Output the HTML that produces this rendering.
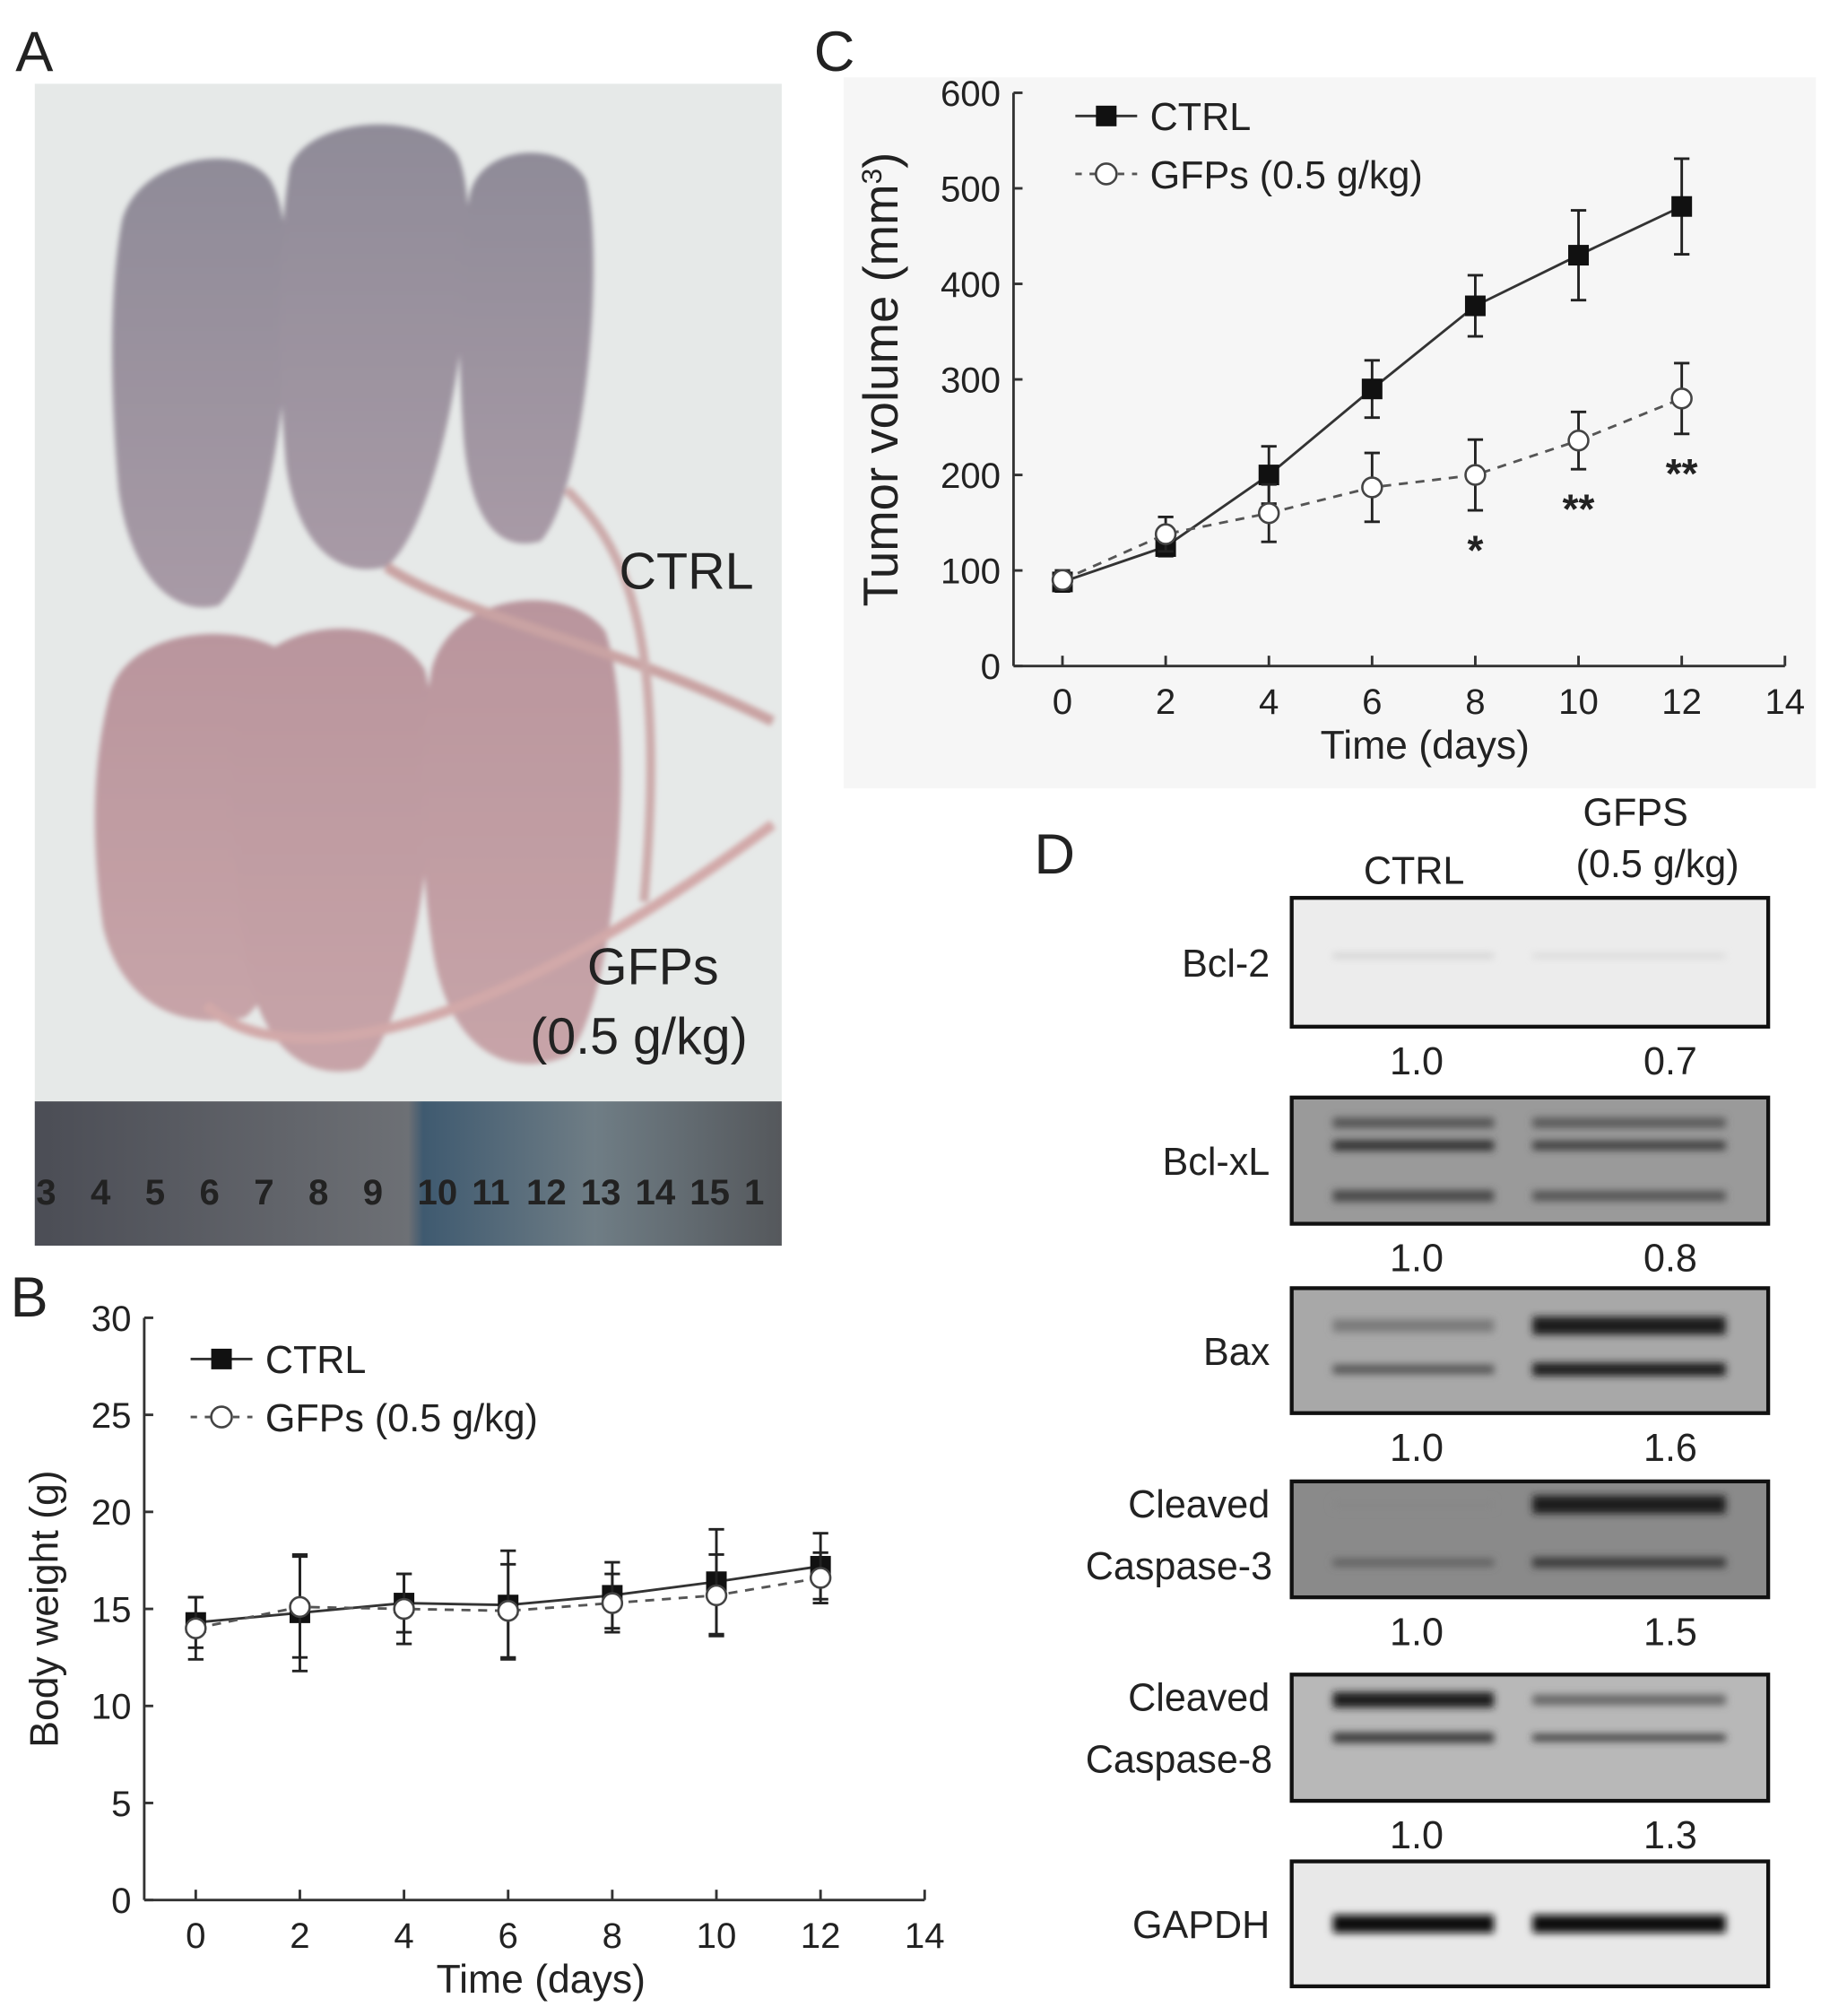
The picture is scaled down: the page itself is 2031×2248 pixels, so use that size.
<!DOCTYPE html>
<html><head><meta charset="utf-8"><style>
html,body{margin:0;padding:0;background:#fff}
svg{display:block}
text{font-family:"Liberation Sans",Arial,sans-serif;fill:#222}
</style></head><body>
<svg id="fig" width="2031" height="2248" viewBox="0 0 1414 1565" xmlns="http://www.w3.org/2000/svg">
<defs>
<linearGradient id="mouseTop" x1="0" y1="0" x2="0" y2="1"><stop offset="0" stop-color="#8f8b98"/><stop offset="1" stop-color="#a89aa6"/></linearGradient>
<linearGradient id="mouseBot" x1="0" y1="0" x2="0" y2="1"><stop offset="0" stop-color="#b9959d"/><stop offset="1" stop-color="#c7a4a8"/></linearGradient>
<linearGradient id="ruler" x1="0" y1="0" x2="1" y2="0"><stop offset="0" stop-color="#4b4d55"/><stop offset="0.5" stop-color="#6d7075"/><stop offset="0.52" stop-color="#3f5a70"/><stop offset="0.75" stop-color="#6f7d85"/><stop offset="1" stop-color="#55585c"/></linearGradient>
<filter id="blur3" x="-20%" y="-200%" width="140%" height="500%"><feGaussianBlur stdDeviation="3"/></filter>
<filter id="blur2"><feGaussianBlur stdDeviation="2"/></filter>
</defs>

<g>
<text x="12" y="55" font-size="44">A</text>
<rect x="27" y="65" width="580" height="902" fill="#e6e9e8"/>
<g filter="url(#blur2)">
<path d="M95,170 C110,120 190,110 210,140 C240,190 220,420 170,470 C130,480 100,440 92,380 C85,300 85,220 95,170Z" fill="url(#mouseTop)"/>
<path d="M225,130 C240,90 330,85 355,120 C380,170 350,400 300,440 C260,450 230,420 222,360 C215,280 215,190 225,130Z" fill="url(#mouseTop)"/>
<path d="M365,150 C375,110 440,110 455,140 C470,200 455,380 420,420 C385,430 365,400 360,340 C355,270 355,200 365,150Z" fill="url(#mouseTop)"/>
<path d="M85,540 C100,480 210,480 235,520 C260,600 230,760 190,790 C140,800 95,780 80,720 C70,650 72,590 85,540Z" fill="url(#mouseBot)"/>
<path d="M185,540 C200,480 300,470 330,520 C350,600 320,800 280,830 C235,840 200,810 190,740 C180,670 178,600 185,540Z" fill="url(#mouseBot)"/>
<path d="M335,520 C350,460 440,450 470,490 C495,560 480,780 440,820 C390,840 345,810 335,730 C325,660 325,580 335,520Z" fill="url(#mouseBot)"/>
<path d="M300,440 C360,480 480,500 600,560" stroke="#c9a3a3" stroke-width="8" fill="none"/>
<path d="M160,780 C200,820 330,840 600,640" stroke="#d2a9a9" stroke-width="8" fill="none"/>
<path d="M440,380 C480,420 520,480 500,700" stroke="#caa" stroke-width="7" fill="none"/>
</g>
<text x="533" y="457" font-size="40" text-anchor="middle" fill="#333">CTRL</text>
<text x="507" y="764" font-size="40" text-anchor="middle" fill="#333">GFPs</text>
<text x="496" y="818" font-size="40" text-anchor="middle" fill="#333">(0.5 g/kg)</text>
<rect x="27" y="855" width="580" height="112" fill="url(#ruler)"/>
<g id="rulerNums"></g>
</g>

<g id="chartB">
<text x="8" y="1022" font-size="44">B</text>
</g>

<rect x="655" y="60" width="755" height="552" fill="#f6f6f6"/>
<g id="chartC">
<text x="632" y="55" font-size="44">C</text>
</g>

<g id="panelD">
<text x="803" y="678" font-size="44">D</text>
<text x="1098" y="686" font-size="30" text-anchor="middle">CTRL</text>
<text x="1270" y="641" font-size="30" text-anchor="middle">GFPS</text>
<text x="1287" y="681" font-size="30" text-anchor="middle">(0.5 g/kg)</text>
</g>
</svg>
<script>
var NS='http://www.w3.org/2000/svg';
function mk(parent,tag,attrs,txt){var e=document.createElementNS(NS,tag);for(var k in attrs)e.setAttribute(k,attrs[k]);if(txt!==undefined)e.textContent=txt;parent.appendChild(e);return e;}

var rulerLabels=['3','4','5','6','7','8','9','10','11','12','13','14','15','1'];
var rg=document.getElementById('rulerNums');
rulerLabels.forEach(function(t,i){
  var el=mk(rg,'text',{x:28+i*42.3,y:935,'font-size':28,'font-weight':'bold','font-family':'Liberation Serif, serif',fill:'#1e1e22'},t);
  
  
});

var bDays=[0,2,4,6,8,10,12];
var bCtrl=[14.3,14.8,15.3,15.2,15.7,16.4,17.2];
var bCtrlErr=[1.3,3.0,1.5,2.8,1.7,2.7,1.7];
var bGfps=[14.0,15.1,15.0,14.9,15.3,15.7,16.6];
var bGfpsErr=[1.6,2.6,1.8,2.4,1.5,2.1,1.3];
var bYTicks=[0,5,10,15,20,25,30];
var bXTicks=[0,2,4,6,8,10,12,14];

var cDays=[0,2,4,6,8,10,12];
var cCtrl=[88,125,200,290,377,430,481];
var cCtrlErr=[10,10,30,30,32,47,50];
var cGfps=[90,138,160,187,200,236,280];
var cGfpsErr=[10,18,30,36,37,30,37];
var cStars=['','','','','*','**','**'];
var cYTicks=[0,100,200,300,400,500,600];
var cXTicks=[0,2,4,6,8,10,12,14];

function drawChart(g,o){
  var sx=function(v){return o.x0+(v-o.xmin)/(o.xmax-o.xmin)*(o.x1-o.x0);};
  var sy=function(v){return o.y0-(v-o.ymin)/(o.ymax-o.ymin)*(o.y0-o.y1);};
  var a;
  a=mk(g,'line',{x1:o.ax,y1:o.y0,x2:o.ax,y2:o.y1,stroke:'#333','stroke-width':2});
  
  a=mk(g,'line',{x1:o.ax,y1:o.y0,x2:o.x1,y2:o.y0,stroke:'#333','stroke-width':2});
  
  o.yt.forEach(function(v){
    var t=mk(g,'line',{x1:o.ax,y1:sy(v),x2:o.ax+7,y2:sy(v),stroke:'#333','stroke-width':2});
    
    var l=mk(g,'text',{x:o.ax-10,y:sy(v)+10,'font-size':o.fs,'text-anchor':'end'},String(v));
    
  });
  o.xt.forEach(function(v){
    var t=mk(g,'line',{x1:sx(v),y1:o.y0,x2:sx(v),y2:o.y0-8,stroke:'#333','stroke-width':2});
    
    var l=mk(g,'text',{x:sx(v),y:o.y0+37,'font-size':o.fs,'text-anchor':'middle'},String(v));
    
  });
  var xt=mk(g,'text',{x:(o.ax+o.x1)/2+o.xtOff,y:o.y0+72,'font-size':o.tfs,'text-anchor':'middle'},'Time (days)');
  
  var yt=mk(g,'text',{x:0,y:0,'font-size':o.tfs+o.ytExtra,'text-anchor':'middle',transform:'translate('+o.ytx+','+(o.y0+o.y1)/2+') rotate(-90)'});
  yt.innerHTML=o.ytitle;
  
  function series(vals,errs,dashed,name){
    var pts=o.days.map(function(d,i){return sx(d)+','+sy(vals[i]);}).join(' ');
    var pl=mk(g,'polyline',{points:pts,fill:'none',stroke:dashed?'#555':'#333','stroke-width':2,'stroke-dasharray':dashed?'7,6':'none'});
    
    o.days.forEach(function(d,i){
      var x=sx(d),yh=sy(vals[i]+errs[i]),yl=sy(vals[i]-errs[i]);
      var e=mk(g,'path',{d:'M'+x+','+yh+'V'+yl+'M'+(x-6)+','+yh+'H'+(x+6)+'M'+(x-6)+','+yl+'H'+(x+6),stroke:'#222','stroke-width':2,fill:'none'});
      
    });
    o.days.forEach(function(d,i){
      var m;
      if(dashed) m=mk(g,'circle',{cx:sx(d),cy:sy(vals[i]),r:o.ms*0.95,fill:'#fff',stroke:'#444','stroke-width':1.8});
      else m=mk(g,'rect',{x:sx(d)-o.ms,y:sy(vals[i])-o.ms,width:2*o.ms,height:2*o.ms,fill:'#111'});
      
    });
  }
  series(o.ctrl,o.ctrlErr,false,'ctrl');
  series(o.gfps,o.gfpsErr,true,'gfps');
  var lx=o.lx,ly=o.ly;
  var l1=mk(g,'line',{x1:lx,y1:ly,x2:lx+48,y2:ly,stroke:'#333','stroke-width':2});
  
  var l1m=mk(g,'rect',{x:lx+24-o.ms,y:ly-o.ms,width:2*o.ms,height:2*o.ms,fill:'#111'});
  
  var l1t=mk(g,'text',{x:lx+58,y:ly+11,'font-size':o.lfs},'CTRL');
  
  var l2=mk(g,'line',{x1:lx,y1:ly+o.lgap,x2:lx+48,y2:ly+o.lgap,stroke:'#555','stroke-width':2,'stroke-dasharray':'5,6'});
  
  var l2m=mk(g,'circle',{cx:lx+24,cy:ly+o.lgap,r:o.ms,fill:'#fff',stroke:'#444','stroke-width':1.8});
  
  var l2t=mk(g,'text',{x:lx+58,y:ly+o.lgap+11,'font-size':o.lfs},'GFPs (0.5 g/kg)');
  
  if(o.stars){o.days.forEach(function(d,i){if(!o.stars[i])return;
    var s=mk(g,'text',{x:sx(d),y:sy(o.gfps[i]-o.gfpsErr[i])+o.starOff,'font-size':32,'font-weight':'bold','text-anchor':'middle'},o.stars[i]);
    });}
}

drawChart(document.getElementById('chartB'),{ax:112,x0:152,x1:718,xmin:0,xmax:14,y0:1475,y1:1023,ymin:0,ymax:30,
  yt:bYTicks,xt:bXTicks,days:bDays,ctrl:bCtrl,ctrlErr:bCtrlErr,gfps:bGfps,gfpsErr:bGfpsErr,
  fs:28,tfs:31,ytExtra:0,ytx:45,xtOff:5,ytitle:'Body weight (g)',ms:8,lx:148,ly:1055,lgap:45,lfs:30});
drawChart(document.getElementById('chartC'),{ax:787,x0:825,x1:1386,xmin:0,xmax:14,y0:517,y1:72,ymin:0,ymax:600,
  yt:cYTicks,xt:cXTicks,days:cDays,ctrl:cCtrl,ctrlErr:cCtrlErr,gfps:cGfps,gfpsErr:cGfpsErr,
  fs:28,tfs:31,ytExtra:7,ytx:697,xtOff:20,ytitle:'Tumor volume (mm<tspan baseline-shift="super" font-size="22">3</tspan>)',ms:8,lx:835,ly:90,lgap:45,lfs:30,stars:cStars,starOff:42});

var blotNames=[['Bcl-2'],['Bcl-xL'],['Bax'],['Cleaved','Caspase-3'],['Cleaved','Caspase-8'],['GAPDH']];
var blotCtrlVals=['1.0','1.0','1.0','1.0','1.0',''];
var blotGfpsVals=['0.7','0.8','1.6','1.5','1.3',''];
var blotTops=[697,852,1000,1150,1300,1445];
var blotHeights=[100,98,97,90,98,97];
var pd=document.getElementById('panelD');
var bandStyles=[
 {bg:'#ececec',bands:[[0.45,'#c8c8c8',3,'#d3d3d3',3]]},
 {bg:'#9a9a9a',bands:[[0.2,'#555',8,'#5a5a5a',8],[0.38,'#333',8,'#3c3c3c',7],[0.78,'#4a4a4a',9,'#555',8]]},
 {bg:'#a8a8a8',bands:[[0.3,'#7a7a7a',10,'#1e1e1e',14],[0.65,'#555',7,'#1e1e1e',10]]},
 {bg:'#8a8a8a',bands:[[0.2,'#888',8,'#1e1e1e',14],[0.7,'#606060',6,'#3a3a3a',8]]},
 {bg:'#b8b8b8',bands:[[0.2,'#1e1e1e',12,'#666',8],[0.5,'#3a3a3a',8,'#333',5]]},
 {bg:'#e8e8e8',bands:[[0.5,'#0a0a0a',14,'#0a0a0a',14]]}
];
blotNames.forEach(function(lines,i){
  var top=blotTops[i],h=blotHeights[i];
  var r=mk(pd,'rect',{x:1003,y:top,width:370,height:h,fill:bandStyles[i].bg});
  
  
  var bg=mk(pd,'g',{filter:'url(#blur3)'});
  bandStyles[i].bands.forEach(function(b){
    var y=top+h*b[0];
    var c=mk(bg,'rect',{x:1035,y:y-b[2]/2,width:125,height:b[2],fill:b[1]});
    
    var gx=mk(bg,'rect',{x:1190,y:y-b[4]/2,width:150,height:b[4],fill:b[3]});
    
  });
  var fr=mk(pd,'rect',{x:1003,y:top,width:370,height:h,fill:'none',stroke:'#111','stroke-width':3});
  
  if(lines.length===1){
    var t=mk(pd,'text',{x:986,y:top+h/2+11,'font-size':30,'text-anchor':'end'},lines[0]);
    
  } else {
    var t1=mk(pd,'text',{x:986,y:top+28,'font-size':30,'text-anchor':'end'},lines[0]);
    
    var t2=mk(pd,'text',{x:988,y:top+76,'font-size':30,'text-anchor':'end'},lines[1]);
    
  }
  if(blotCtrlVals[i]){
    var v1=mk(pd,'text',{x:1100,y:top+h+37,'font-size':30,'text-anchor':'middle'},blotCtrlVals[i]);
    
    var v2=mk(pd,'text',{x:1297,y:top+h+37,'font-size':30,'text-anchor':'middle'},blotGfpsVals[i]);
    
  }
});
</script>
</body></html>
